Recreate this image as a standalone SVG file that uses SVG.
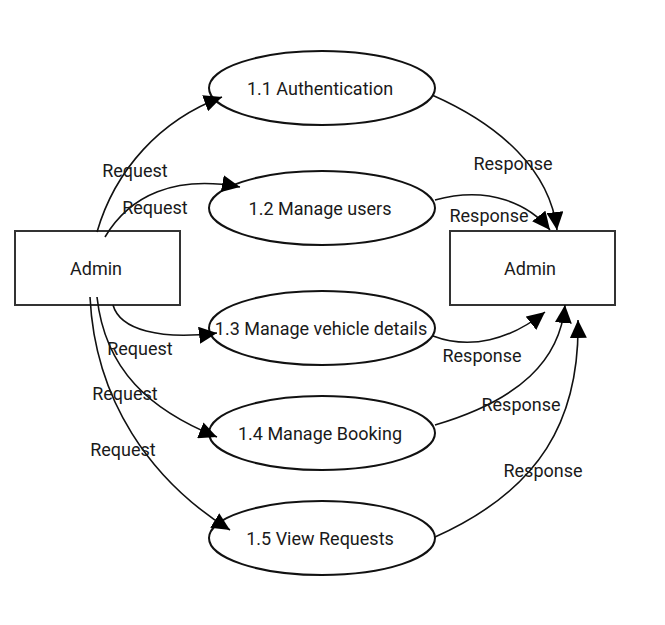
<svg xmlns="http://www.w3.org/2000/svg" width="665" height="625" viewBox="0 0 665 625">
<style>
text{font-family:Roboto,"Liberation Sans",sans-serif;font-size:18px;fill:#1a1a1a;text-anchor:middle;dominant-baseline:central}
.box{fill:#fff;stroke:#333;stroke-width:2}
.proc{fill:#fff;stroke:#111;stroke-width:2}
.flow{fill:none;stroke:#111;stroke-width:1.6;marker-end:url(#ah)}
</style>
<defs>
<marker id="ah" markerUnits="userSpaceOnUse" markerWidth="19" markerHeight="17" refX="18" refY="8.5" orient="auto">
<path d="M0,0 L18,8.5 L0,17 z" fill="#000"/>
</marker>
</defs>
<rect width="665" height="625" fill="#fff"/>
<g id="admin-left"><rect class="box" x="15" y="231" width="165" height="74"/><text x="96" y="268">Admin</text></g>
<g id="admin-right"><rect class="box" x="450" y="231" width="165" height="74"/><text x="530" y="268">Admin</text></g>
<g id="p11"><ellipse class="proc" cx="322" cy="88" rx="113" ry="37"/><text x="320" y="88">1.1 Authentication</text></g>
<g id="p12"><ellipse class="proc" cx="322" cy="208" rx="113" ry="37"/><text x="320" y="208">1.2 Manage users</text></g>
<g id="p13"><ellipse class="proc" cx="322" cy="328" rx="113" ry="37"/><text x="321" y="328">1.3 Manage vehicle details</text></g>
<g id="p14"><ellipse class="proc" cx="322" cy="433" rx="113" ry="37"/><text x="320" y="433">1.4 Manage Booking</text></g>
<g id="p15"><ellipse class="proc" cx="322" cy="538" rx="113" ry="37"/><text x="320" y="538">1.5 View Requests</text></g>
<g id="connectors">
<path class="flow" d="M97,232 C115,170 160,120 222,97"/>
<path class="flow" d="M105,237 C130,195 175,175 240,187"/>
<path class="flow" d="M113,305 C120,330 160,340 217,333"/>
<path class="flow" d="M97,297 C105,370 150,410 217,437"/>
<path class="flow" d="M90,297 C95,400 150,480 230,530"/>
<path class="flow" d="M432,95 C500,125 550,170 557,230"/>
<path class="flow" d="M435,200 C490,185 530,205 550,230"/>
<path class="flow" d="M433,336 C470,350 510,340 545,312"/>
<path class="flow" d="M435,425 C520,400 560,360 565,305"/>
<path class="flow" d="M435,537 C540,490 580,420 578,320"/>
<text x="135" y="170">Request</text>
<text x="155" y="207">Request</text>
<text x="140" y="348">Request</text>
<text x="125" y="393">Request</text>
<text x="123" y="449">Request</text>
<text x="513" y="163">Response</text>
<text x="489" y="215">Response</text>
<text x="482" y="355">Response</text>
<text x="521" y="404">Response</text>
<text x="543" y="470">Response</text>
</g>
</svg>
